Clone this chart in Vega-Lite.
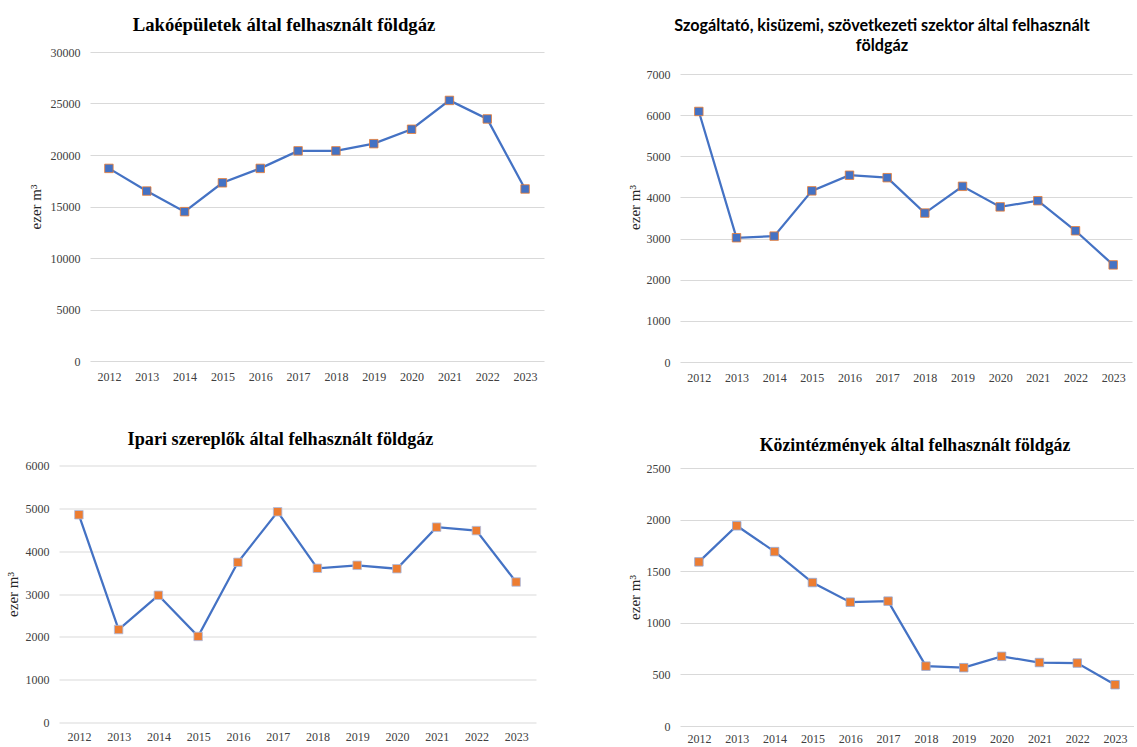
{
  "$schema": "https://vega.github.io/schema/vega-lite/v6.json",
  "background": "white",
  "padding": {"left": 5, "top": 16, "right": 0, "bottom": 0},
  "config": {
    "view": {"stroke": null},
    "axis": {
      "labelFont": "Liberation Serif", "labelFontSize": 12, "labelColor": "#404040",
      "titleFont": "Liberation Serif", "titleFontSize": 15, "titleFontWeight": "normal", "titleColor": "#262626",
      "gridColor": "#d9d9d9", "gridWidth": 1, "domain": false, "ticks": false
    },
    "title": {"font": "Liberation Serif", "fontSize": 18, "fontWeight": "bold", "color": "#000000", "anchor": "middle"}
  },
  "datasets": {
    "lako": [
      {"year": "2012", "value": 18700}, {"year": "2013", "value": 16500}, {"year": "2014", "value": 14500},
      {"year": "2015", "value": 17300}, {"year": "2016", "value": 18700}, {"year": "2017", "value": 20400},
      {"year": "2018", "value": 20400}, {"year": "2019", "value": 21100}, {"year": "2020", "value": 22500},
      {"year": "2021", "value": 25300}, {"year": "2022", "value": 23500}, {"year": "2023", "value": 16700}
    ],
    "szolg": [
      {"year": "2012", "value": 6090}, {"year": "2013", "value": 3020}, {"year": "2014", "value": 3060},
      {"year": "2015", "value": 4160}, {"year": "2016", "value": 4540}, {"year": "2017", "value": 4480},
      {"year": "2018", "value": 3620}, {"year": "2019", "value": 4270}, {"year": "2020", "value": 3770},
      {"year": "2021", "value": 3920}, {"year": "2022", "value": 3190}, {"year": "2023", "value": 2360}
    ],
    "ipari": [
      {"year": "2012", "value": 4850}, {"year": "2013", "value": 2170}, {"year": "2014", "value": 2970},
      {"year": "2015", "value": 2010}, {"year": "2016", "value": 3740}, {"year": "2017", "value": 4920},
      {"year": "2018", "value": 3600}, {"year": "2019", "value": 3670}, {"year": "2020", "value": 3590},
      {"year": "2021", "value": 4560}, {"year": "2022", "value": 4480}, {"year": "2023", "value": 3280}
    ],
    "kozint": [
      {"year": "2012", "value": 1590}, {"year": "2013", "value": 1940}, {"year": "2014", "value": 1690},
      {"year": "2015", "value": 1390}, {"year": "2016", "value": 1200}, {"year": "2017", "value": 1210},
      {"year": "2018", "value": 580}, {"year": "2019", "value": 565}, {"year": "2020", "value": 675},
      {"year": "2021", "value": 615}, {"year": "2022", "value": 610}, {"year": "2023", "value": 400}
    ]
  },
  "spacing": 52,
  "hconcat": [
    {
      "spacing": 47.5,
      "center": true,
      "vconcat": [
        {
          "data": {"name": "lako"},
          "width": 454, "height": 309,
          "title": {"text": "Lakóépületek által felhasznált földgáz", "fontSize": 18.7, "offset": 11, "dx": -33},
          "mark": {"type": "line", "color": "#4472C4", "strokeWidth": 2.25,
            "point": {"shape": "square", "size": 72, "filled": true, "fill": "#4472C4", "stroke": "#ED7D31", "strokeWidth": 0.8}},
          "encoding": {
            "x": {"field": "year", "type": "ordinal", "axis": {"labelAngle": 0, "title": null, "labelPadding": 10, "grid": false}},
            "y": {"field": "value", "type": "quantitative", "scale": {"domain": [0, 30000], "nice": false},
              "axis": {"values": [0, 5000, 10000, 15000, 20000, 25000, 30000], "format": "d", "title": "ezer m³", "labelPadding": 10, "titlePadding": 7}}
          }
        },
        {
          "data": {"name": "ipari"},
          "width": 477, "height": 257,
          "title": {"text": "Ipari szereplők által felhasznált földgáz", "fontSize": 18.2, "offset": 10, "dx": -17},
          "mark": {"type": "line", "color": "#4472C4", "strokeWidth": 2.25,
            "point": {"shape": "square", "size": 72, "filled": true, "fill": "#ED7D31", "stroke": "#A9BDE6", "strokeWidth": 0.8}},
          "encoding": {
            "x": {"field": "year", "type": "ordinal", "axis": {"labelAngle": 0, "title": " ", "titleX": 516, "titleY": -120, "titleAlign": "right", "titleFontSize": 10, "labelPadding": 9, "grid": false}},
            "y": {"field": "value", "type": "quantitative", "scale": {"domain": [0, 6000], "nice": false},
              "axis": {"values": [0, 1000, 2000, 3000, 4000, 5000, 6000], "format": "d", "title": "ezer m³", "labelPadding": 10, "titlePadding": 5}}
          }
        }
      ]
    },
    {
      "spacing": 54,
      "vconcat": [
        {
          "data": {"name": "szolg"},
          "width": 452, "height": 310,
          "title": {"text": ["Szogáltató, kisüzemi, szövetkezeti szektor által felhasznált", "földgáz"], "font": "Lato", "fontSize": 16.2, "lineHeight": 20, "offset": -2, "dx": -24},
          "mark": {"type": "line", "color": "#4472C4", "strokeWidth": 2.25,
            "point": {"shape": "square", "size": 72, "filled": true, "fill": "#4472C4", "stroke": "#ED7D31", "strokeWidth": 0.8}},
          "encoding": {
            "x": {"field": "year", "type": "ordinal", "axis": {"labelAngle": 0, "title": null, "labelPadding": 10, "grid": false}},
            "y": {"field": "value", "type": "quantitative", "scale": {"domain": [0, 7535], "nice": false},
              "axis": {"values": [0, 1000, 2000, 3000, 4000, 5000, 6000, 7000], "format": "d", "title": "ezer m³", "labelPadding": 10, "titlePadding": 4}}
          }
        },
        {
          "data": {"name": "kozint"},
          "width": 454, "height": 258,
          "title": {"text": "Közintézmények által felhasznált földgáz", "fontSize": 17.8, "offset": 7, "dx": 8},
          "mark": {"type": "line", "color": "#4472C4", "strokeWidth": 2.25,
            "point": {"shape": "square", "size": 72, "filled": true, "fill": "#ED7D31", "stroke": "#8FAADC", "strokeWidth": 0.8}},
          "encoding": {
            "x": {"field": "year", "type": "ordinal", "axis": {"labelAngle": 0, "title": null, "labelPadding": 7, "grid": false}},
            "y": {"field": "value", "type": "quantitative", "scale": {"domain": [0, 2500], "nice": false},
              "axis": {"values": [0, 500, 1000, 1500, 2000, 2500], "format": "d", "title": "ezer m³", "labelPadding": 10, "titlePadding": 4}}
          }
        }
      ]
    }
  ]
}
